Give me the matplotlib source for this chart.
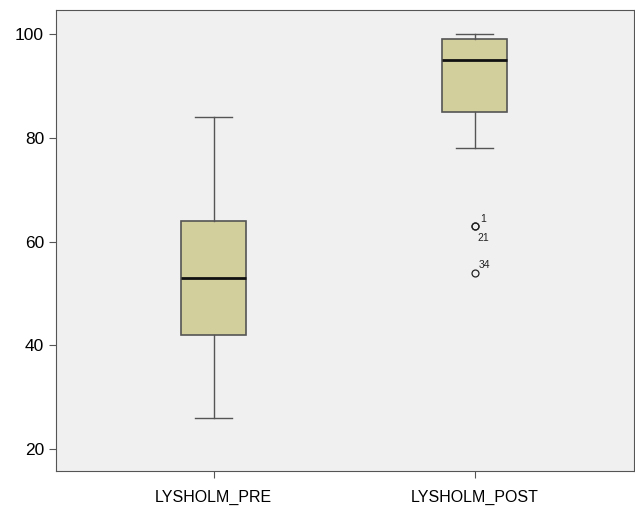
import matplotlib
matplotlib.use("Agg")
import matplotlib.pyplot as plt

plt.rcParams['font.family'] = ['Liberation Sans', 'DejaVu Sans']

# Lysholm score, pre/post
labels = ["LYSHOLM_PRE", "LYSHOLM_POST"]
whislo = [26, 78]
q1 = [42, 85]
med = [53, 95]
q3 = [64, 99]
whishi = [84, 100]
fliers = [[], [63, 63, 54]]
flier_ids = [[], ["1", "21", "34"]]

stats = []
for i in range(len(labels)):
    stats.append(dict(label=labels[i], whislo=whislo[i], q1=q1[i], med=med[i],
                      q3=q3[i], whishi=whishi[i], fliers=fliers[i]))

fig = plt.figure(figsize=(6.35, 5.09), dpi=100)
ax = fig.add_axes([0.088, 0.075, 0.910, 0.905])
ax.set_facecolor("#f0f0f0")

edge = "#555555"
ax.bxp(stats, positions=[1, 2], widths=0.25, patch_artist=True,
       boxprops=dict(facecolor="#d3cf9c", edgecolor=edge, linewidth=1.2),
       medianprops=dict(color="#111111", linewidth=2),
       whiskerprops=dict(color=edge, linewidth=1),
       capprops=dict(color=edge, linewidth=1),
       capwidths=0.14,
       flierprops=dict(marker="o", markersize=5, markerfacecolor="none",
                       markeredgecolor="#222222", markeredgewidth=0.9))

# case labels next to outliers
offs = [(4, 3), (2, -11), (3, 3)]
for i, pos in enumerate([1, 2]):
    for j, (v, t) in enumerate(zip(fliers[i], flier_ids[i])):
        ax.annotate(t, (pos, v), xytext=offs[j], textcoords="offset points",
                    fontsize=7.5, color="#222222")

ax.set_xlim(0.395, 2.61)
ax.set_ylim(15.8, 104.6)
ax.set_yticks([20, 40, 60, 80, 100])
for s in ax.spines.values():
    s.set_color(edge)
ax.tick_params(axis="both", colors=edge, labelcolor="black", labelsize=12.5, length=5)
ax.tick_params(axis="x", labelsize=11.5, pad=9)

fig.savefig("out.png", dpi=100)
